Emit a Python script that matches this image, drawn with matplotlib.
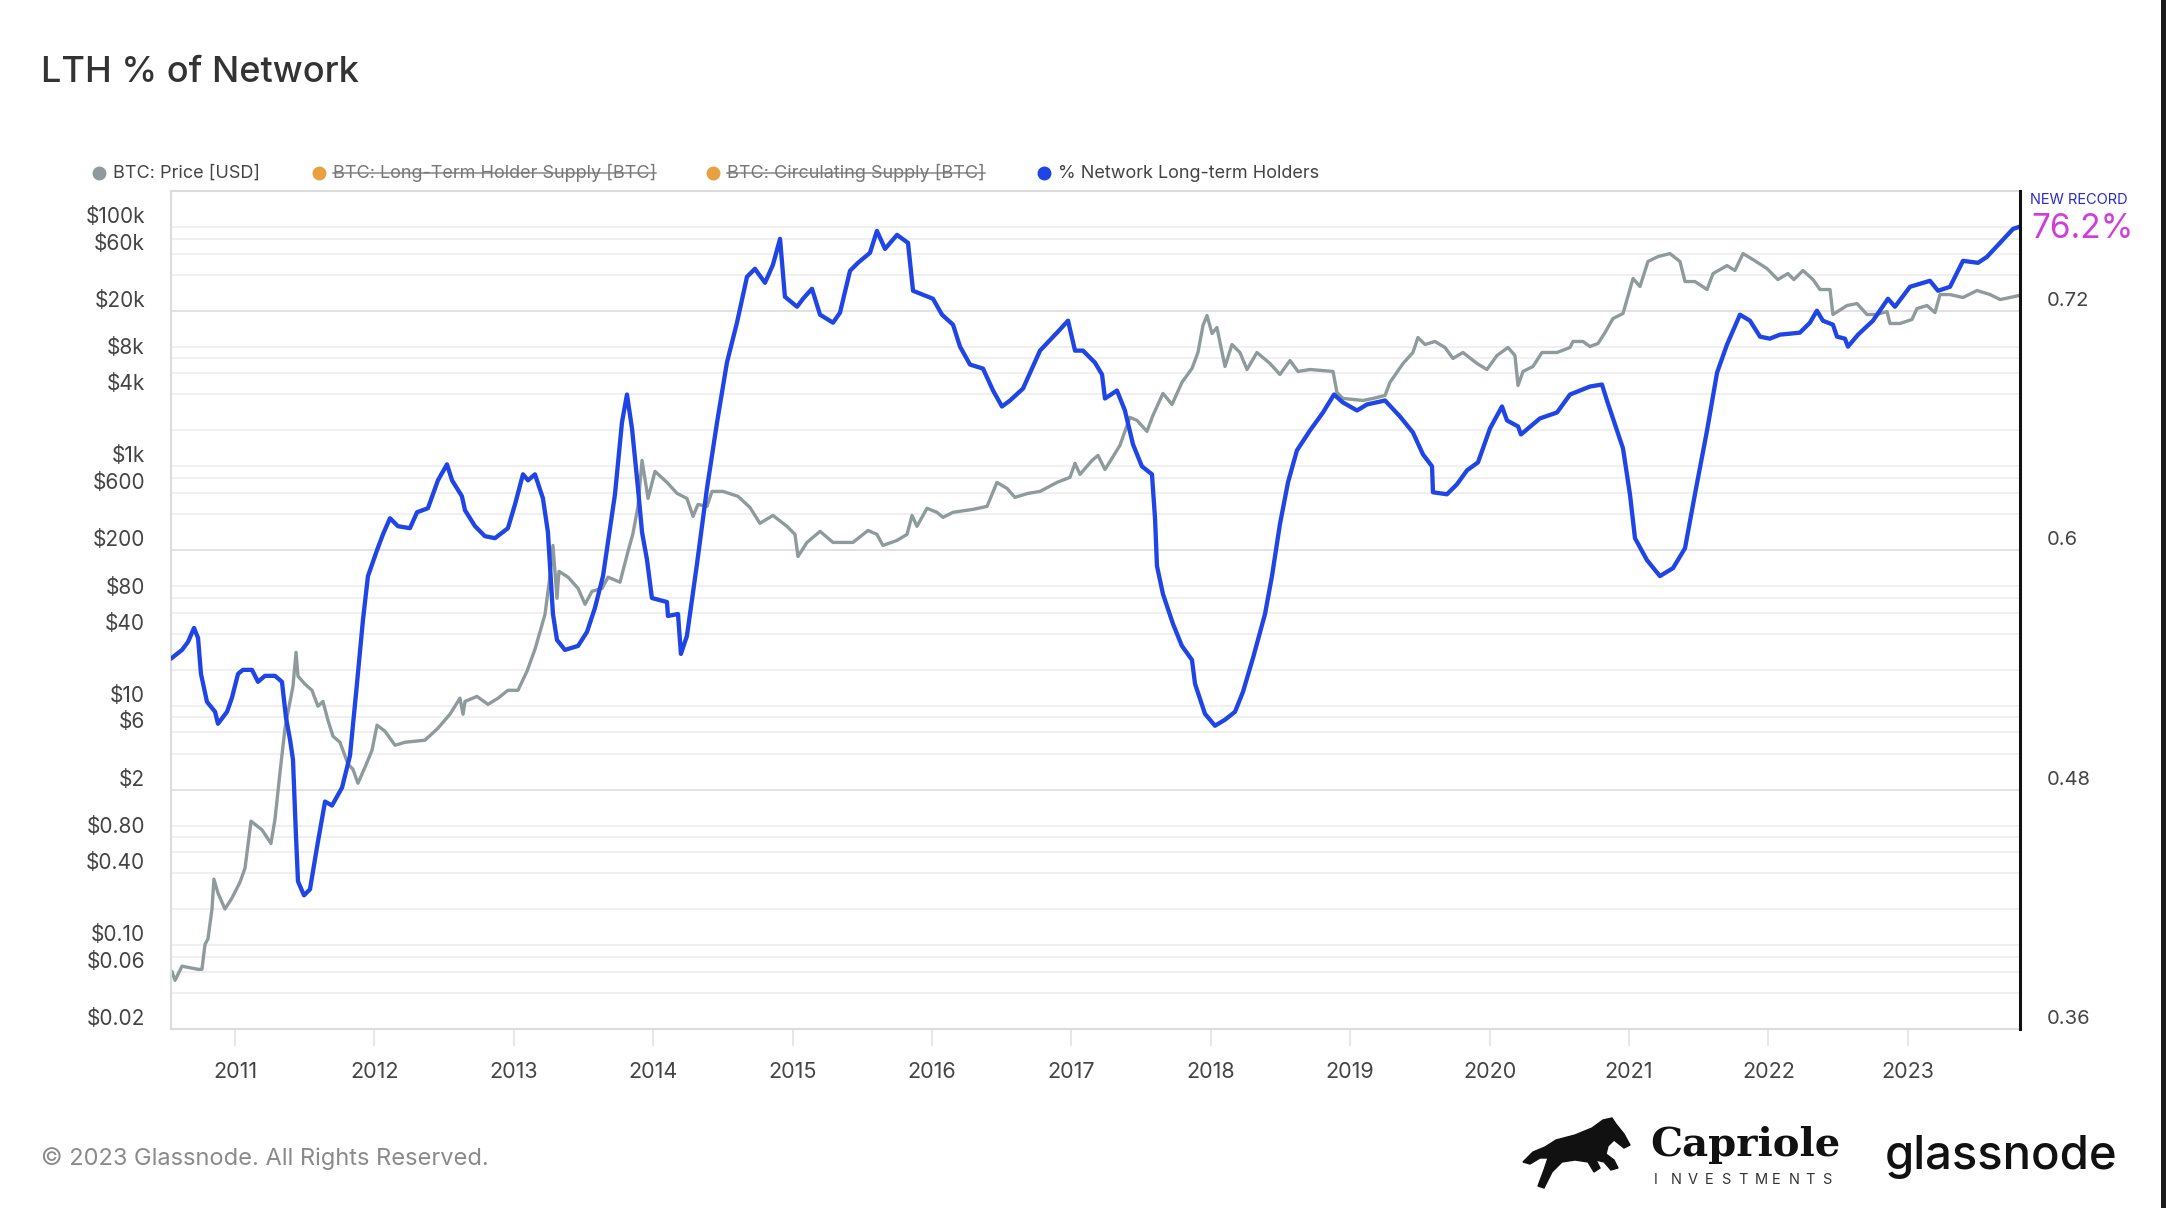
import matplotlib
matplotlib.use('Agg')
import matplotlib.pyplot as plt
from matplotlib.lines import Line2D
from matplotlib.patches import Polygon, Rectangle
from matplotlib.transforms import offset_copy

plt.rcParams['font.family'] = ['Inter', 'DejaVu Sans']

# ---- data (decimal years) ----
lth_years = [
    2010.548, 2010.620, 2010.663, 2010.706, 2010.735, 2010.756, 2010.799, 2010.857, 2010.878, 2010.943,
    2010.978, 2011.022, 2011.057, 2011.122, 2011.165, 2011.215, 2011.287, 2011.337, 2011.366, 2011.395,
    2011.416, 2011.438, 2011.452, 2011.495, 2011.538, 2011.588, 2011.646, 2011.696, 2011.768, 2011.825,
    2011.875, 2011.918, 2011.954, 2012.019, 2012.062, 2012.112, 2012.169, 2012.255, 2012.306, 2012.384,
    2012.456, 2012.521, 2012.557, 2012.628, 2012.650, 2012.722, 2012.793, 2012.865, 2012.958, 2013.009,
    2013.066, 2013.102, 2013.152, 2013.209, 2013.245, 2013.281, 2013.310, 2013.367, 2013.461, 2013.525,
    2013.582, 2013.640, 2013.726, 2013.776, 2013.812, 2013.848, 2013.891, 2013.920, 2013.956, 2013.991,
    2014.099, 2014.106, 2014.178, 2014.199, 2014.242, 2014.314, 2014.386, 2014.458, 2014.529, 2014.601,
    2014.673, 2014.730, 2014.802, 2014.859, 2014.910, 2014.945, 2015.032, 2015.075, 2015.139, 2015.197,
    2015.290, 2015.340, 2015.412, 2015.469, 2015.555, 2015.605, 2015.663, 2015.749, 2015.828, 2015.864,
    2015.935, 2016.007, 2016.072, 2016.151, 2016.201, 2016.273, 2016.366, 2016.438, 2016.502, 2016.560,
    2016.653, 2016.775, 2016.897, 2016.976, 2017.026, 2017.083, 2017.169, 2017.220, 2017.241, 2017.327,
    2017.384, 2017.442, 2017.506, 2017.578, 2017.600, 2017.614, 2017.657, 2017.729, 2017.793, 2017.865,
    2017.887, 2017.958, 2018.030, 2018.102, 2018.174, 2018.231, 2018.303, 2018.389, 2018.439, 2018.496,
    2018.554, 2018.618, 2018.712, 2018.805, 2018.884, 2018.948, 2019.049, 2019.120, 2019.250, 2019.357,
    2019.450, 2019.522, 2019.587, 2019.594, 2019.694, 2019.766, 2019.838, 2019.917, 2020.003, 2020.089,
    2020.125, 2020.204, 2020.225, 2020.361, 2020.484, 2020.577, 2020.720, 2020.806, 2020.842, 2020.885,
    2020.957, 2021.007, 2021.043, 2021.129, 2021.222, 2021.316, 2021.402, 2021.473, 2021.560, 2021.632,
    2021.703, 2021.796, 2021.868, 2021.940, 2022.011, 2022.083, 2022.226, 2022.298, 2022.348, 2022.391,
    2022.463, 2022.492, 2022.549, 2022.571, 2022.643, 2022.750, 2022.858, 2022.908, 2023.016, 2023.159,
    2023.217, 2023.303, 2023.396, 2023.504, 2023.568, 2023.662, 2023.755, 2023.798,
]
lth_share = [
    0.546, 0.550, 0.554, 0.561, 0.556, 0.538, 0.524, 0.519, 0.513, 0.519,
    0.526, 0.538, 0.540, 0.540, 0.534, 0.537, 0.537, 0.534, 0.516, 0.505,
    0.495, 0.456, 0.434, 0.427, 0.430, 0.451, 0.474, 0.472, 0.481, 0.497,
    0.533, 0.565, 0.587, 0.600, 0.608, 0.616, 0.612, 0.611, 0.619, 0.621,
    0.635, 0.643, 0.635, 0.627, 0.620, 0.612, 0.607, 0.606, 0.611, 0.623,
    0.638, 0.635, 0.638, 0.626, 0.609, 0.568, 0.555, 0.550, 0.552, 0.559,
    0.571, 0.587, 0.628, 0.664, 0.678, 0.661, 0.631, 0.609, 0.595, 0.576,
    0.574, 0.567, 0.568, 0.548, 0.557, 0.593, 0.631, 0.664, 0.694, 0.714,
    0.737, 0.741, 0.734, 0.743, 0.756, 0.727, 0.722, 0.726, 0.731, 0.718,
    0.714, 0.719, 0.740, 0.744, 0.749, 0.760, 0.751, 0.758, 0.754, 0.730,
    0.728, 0.726, 0.718, 0.713, 0.702, 0.693, 0.691, 0.680, 0.672, 0.675,
    0.681, 0.700, 0.709, 0.715, 0.700, 0.700, 0.694, 0.688, 0.676, 0.680,
    0.670, 0.653, 0.642, 0.638, 0.616, 0.592, 0.578, 0.563, 0.552, 0.545,
    0.533, 0.518, 0.512, 0.515, 0.519, 0.529, 0.546, 0.568, 0.587, 0.613,
    0.634, 0.650, 0.660, 0.669, 0.678, 0.674, 0.670, 0.673, 0.675, 0.667,
    0.659, 0.648, 0.642, 0.629, 0.628, 0.633, 0.640, 0.644, 0.661, 0.672,
    0.665, 0.662, 0.658, 0.666, 0.669, 0.678, 0.682, 0.683, 0.675, 0.666,
    0.651, 0.628, 0.606, 0.595, 0.587, 0.591, 0.601, 0.628, 0.660, 0.689,
    0.703, 0.718, 0.715, 0.707, 0.706, 0.708, 0.709, 0.714, 0.720, 0.715,
    0.713, 0.707, 0.706, 0.702, 0.708, 0.715, 0.726, 0.722, 0.732, 0.735,
    0.730, 0.732, 0.745, 0.744, 0.747, 0.754, 0.761, 0.762,
]

price_years = [
    2010.548, 2010.570, 2010.620, 2010.735, 2010.763, 2010.785, 2010.806, 2010.835, 2010.849, 2010.878,
    2010.928, 2010.978, 2011.036, 2011.072, 2011.115, 2011.194, 2011.258, 2011.287, 2011.323, 2011.359,
    2011.387, 2011.416, 2011.438, 2011.452, 2011.502, 2011.552, 2011.595, 2011.631, 2011.667, 2011.703,
    2011.753, 2011.811, 2011.846, 2011.882, 2011.933, 2011.983, 2012.019, 2012.076, 2012.148, 2012.220,
    2012.363, 2012.456, 2012.542, 2012.614, 2012.636, 2012.650, 2012.736, 2012.815, 2012.887, 2012.958,
    2013.030, 2013.095, 2013.152, 2013.224, 2013.260, 2013.281, 2013.310, 2013.324, 2013.389, 2013.461,
    2013.511, 2013.561, 2013.633, 2013.676, 2013.762, 2013.812, 2013.855, 2013.891, 2013.920, 2013.963,
    2014.013, 2014.099, 2014.171, 2014.242, 2014.286, 2014.321, 2014.386, 2014.422, 2014.501, 2014.608,
    2014.694, 2014.766, 2014.859, 2014.960, 2015.017, 2015.039, 2015.103, 2015.197, 2015.290, 2015.433,
    2015.541, 2015.605, 2015.648, 2015.749, 2015.821, 2015.857, 2015.892, 2015.964, 2016.036, 2016.079,
    2016.151, 2016.294, 2016.395, 2016.466, 2016.538, 2016.595, 2016.689, 2016.775, 2016.897, 2016.990,
    2017.026, 2017.062, 2017.148, 2017.191, 2017.241, 2017.291, 2017.348, 2017.420, 2017.471, 2017.542,
    2017.585, 2017.657, 2017.722, 2017.793, 2017.865, 2017.908, 2017.944, 2017.973, 2018.009, 2018.044,
    2018.102, 2018.152, 2018.209, 2018.260, 2018.331, 2018.425, 2018.496, 2018.568, 2018.626, 2018.712,
    2018.877, 2018.905, 2018.948, 2019.092, 2019.164, 2019.250, 2019.285, 2019.379, 2019.450, 2019.486,
    2019.537, 2019.608, 2019.680, 2019.737, 2019.809, 2019.910, 2019.981, 2020.053, 2020.132, 2020.182,
    2020.204, 2020.240, 2020.311, 2020.376, 2020.484, 2020.577, 2020.598, 2020.670, 2020.720, 2020.778,
    2020.828, 2020.885, 2020.957, 2021.029, 2021.079, 2021.136, 2021.208, 2021.294, 2021.366, 2021.402,
    2021.473, 2021.560, 2021.603, 2021.703, 2021.760, 2021.818, 2021.890, 2021.990, 2022.068, 2022.140,
    2022.183, 2022.248, 2022.320, 2022.370, 2022.442, 2022.463, 2022.564, 2022.636, 2022.707, 2022.779,
    2022.851, 2022.872, 2022.944, 2023.030, 2023.066, 2023.138, 2023.195, 2023.231, 2023.303, 2023.396,
    2023.497, 2023.590, 2023.662, 2023.733, 2023.798,
]
price_usd = [
    0.060, 0.051, 0.067, 0.063, 0.063, 0.102, 0.113, 0.201, 0.357, 0.273,
    0.201, 0.248, 0.337, 0.442, 1.09, 0.92, 0.71, 1.13, 2.79, 6.51,
    9.75, 14.6, 28.0, 17.7, 15.2, 13.5, 9.94, 10.9, 7.59, 5.58,
    4.97, 3.26, 2.96, 2.26, 3.08, 4.26, 6.90, 6.14, 4.69, 4.97,
    5.17, 6.51, 8.52, 11.6, 8.52, 10.9, 12.0, 10.3, 11.6, 13.5,
    13.5, 19.5, 29.7, 58.2, 123, 219, 79.2, 133, 119, 95.9,
    70.6, 90.6, 95.9, 119, 108, 181, 276, 464, 1124, 541,
    910, 736, 596, 541, 383, 482, 464, 619, 619, 563,
    455, 335, 390, 316, 271, 177, 232, 287, 232, 232,
    292, 271, 219, 241, 271, 390, 316, 447, 414, 376,
    414, 438, 464, 736, 656, 552, 596, 619, 736, 811,
    1061, 859, 1124, 1236, 944, 1167, 1500, 2570, 2424, 1963,
    2669, 4074, 3297, 5031, 6586, 8954, 15040, 18230, 12900, 14480,
    6840, 10440, 8954, 6457, 8954, 7244, 5866, 7674, 6216, 6457,
    6216, 4150, 3700, 3560, 3700, 3920, 5031, 7244, 8954, 11940,
    10440, 11070, 9860, 7980, 8954, 7244, 6457, 8450, 9860, 8450,
    4750, 6216, 6840, 8954, 8954, 9860, 11070, 11070, 10050, 10650,
    13150, 17200, 18950, 37150, 31840, 51500, 56650, 60000, 51500, 35050,
    35050, 30060, 40900, 47650, 43350, 60000, 53450, 45000, 36400, 40900,
    36400, 43350, 36400, 30060, 30060, 18600, 22100, 22960, 18600, 18600,
    19700, 15640, 15640, 16900, 20850, 22100, 19300, 27300, 27300, 25780,
    29500, 27300, 24800, 25780, 26800,
]

year_ticks = list(range(2011, 2024))
price_ticks = [1e5, 6e4, 2e4, 8e3, 4e3, 1e3, 600, 200, 80, 40, 10, 6, 2, 0.8, 0.4, 0.1, 0.06, 0.02]
price_tick_labels = ['$100k', '$60k', '$20k', '$8k', '$4k', '$1k', '$600', '$200', '$80', '$40',
                     '$10', '$6', '$2', '$0.80', '$0.40', '$0.10', '$0.06', '$0.02']
share_ticks = [0.36, 0.48, 0.6, 0.72]
share_tick_labels = ['0.36', '0.48', '0.6', '0.72']

GRAY = '#8e9a9b'
BLUE = '#1f45e6'
ORANGE = '#e8a040'

W, H = 2166, 1208
fig = plt.figure(figsize=(W / 100, H / 100), dpi=100)
fig.patch.set_facecolor('white')


def fx(px):
    return px / W


def fy(py):
    return 1 - py / H


ax = fig.add_axes([fx(171), fy(1029), fx(2020) - fx(171), fy(191) - fy(1029)])
ax2 = ax.twinx()

# price (left, log)
ax.plot(price_years, price_usd, color=GRAY, lw=2.4, solid_joinstyle='round')
ax.set_yscale('log')
ax.set_ylim(0.02, 2e5)
ax.set_xlim(2010.541, 2023.805)

# grid at 1,2,4,6,8 x 10^n
for e in range(-2, 6):
    for m in (1, 2, 4, 6, 8):
        v = m * 10.0 ** e
        if 0.02 < v < 2e5:
            ax.axhline(v, color='#ececec', lw=1.1, zorder=0)
for v in (2e4, 200, 2):
    ax.axhline(v, color='#e0e0e0', lw=1.2, zorder=0)

ax.yaxis.set_major_locator(plt.NullLocator())
ax.yaxis.set_minor_locator(plt.NullLocator())
ax.set_xticks(year_ticks)
ax.set_xticklabels([str(y) for y in year_ticks])
ax.tick_params(axis='x', length=12, width=1.2, color='#e3e3e3', pad=12,
               labelsize=15.5, labelcolor='#444444')
for s in ('left', 'bottom', 'top'):
    ax.spines[s].set_color('#dcdcdc')
    ax.spines[s].set_linewidth(1.5)
ax.spines['right'].set_visible(False)

# LTH share (right, linear)
ax2.plot(lth_years, lth_share, color=BLUE, lw=3.1, solid_joinstyle='round')
ax2.set_ylim(0.36, 0.78)
ax2.yaxis.set_major_locator(plt.NullLocator())
for s in ('left', 'bottom', 'top'):
    ax2.spines[s].set_visible(False)
ax2.spines['right'].set_color('#111111')
ax2.spines['right'].set_linewidth(2.2)

# tick labels sit a little above their grid lines
lt = offset_copy(ax.get_yaxis_transform(), fig=fig, x=-26, y=10, units='dots')
for v, lab in zip(price_ticks, price_tick_labels):
    ax.text(0, v, lab, transform=lt, ha='right', va='center', fontsize=15,
            color='#444444', clip_on=False)
rt = offset_copy(ax2.get_yaxis_transform(), fig=fig, x=27, y=10, units='dots')
for v, lab in zip(share_ticks, share_tick_labels):
    ax2.text(1, v, lab, transform=rt, ha='left', va='center', fontsize=14.5,
             color='#444444', clip_on=False)

# title
fig.text(fx(41), fy(73), 'LTH % of Network', fontsize=26, color='#333333',
         weight='medium', ha='left', va='center')

# legend
items = [('BTC: Price [USD]', GRAY, False, 99),
         ('BTC: Long-Term Holder Supply [BTC]', ORANGE, True, 319),
         ('BTC: Circulating Supply [BTC]', ORANGE, True, 713),
         ('% Network Long-term Holders', BLUE, False, 1044)]
leg_texts = []
for label, col, struck, x0 in items:
    fig.add_artist(Line2D([fx(x0)], [fy(173)], marker='o', markersize=9,
                          color=col, transform=fig.transFigure))
    t = fig.text(fx(x0 + 14), fy(173), label, fontsize=13,
                 color='#777777' if struck else '#444444', ha='left', va='center')
    leg_texts.append((t, struck))

fig.canvas.draw()
r = fig.canvas.get_renderer()
for t, struck in leg_texts:
    if struck:
        bb = t.get_window_extent(renderer=r)
        ymid = (bb.y0 + bb.y1) / 2
        fig.add_artist(Line2D([bb.x0 / W, bb.x1 / W], [ymid / H, ymid / H],
                              color='#888888', lw=1.1, transform=fig.transFigure))

# annotation at the right
fig.text(fx(2030), fy(200), 'NEW RECORD', fontsize=10.5, color='#2a2ad2',
         ha='left', va='center')
fig.text(fx(2031), fy(229), '76.2%', fontsize=24, color='#cf3ed9',
         ha='left', va='center')

# footer
fig.text(fx(41), fy(1159), '\u00a9 2023 Glassnode. All Rights Reserved.', fontsize=17,
         color='#8a8a8a', ha='left', va='center')

# Capriole logo (rough horse silhouette + wordmark)
horse = [(1523, 1162), (1533, 1152), (1545, 1147), (1556, 1140), (1575, 1135), (1592, 1128),
         (1603, 1120), (1612, 1118), (1616, 1124), (1624, 1134), (1630, 1145), (1624, 1148),
         (1614, 1140), (1608, 1146), (1606, 1154), (1614, 1160), (1618, 1168), (1611, 1170),
         (1604, 1162), (1596, 1160), (1600, 1168), (1594, 1172), (1588, 1162), (1575, 1160),
         (1562, 1162), (1552, 1172), (1544, 1188), (1538, 1186), (1544, 1170), (1548, 1158),
         (1540, 1158), (1530, 1164)]
fig.add_artist(Polygon([(fx(x), fy(y)) for x, y in horse], closed=True,
                       facecolor='#111111', edgecolor='#111111',
                       transform=fig.transFigure))
fig.text(fx(1650), fy(1145), 'Capriole', family='DejaVu Serif', weight='bold',
         fontsize=29, color='#111111', ha='left', va='center')
for i, ch in enumerate('INVESTMENTS'):
    fig.text(fx(1654 + i * 16.8), fy(1180), ch, fontsize=10.5, color='#333333',
             ha='left', va='center')
fig.text(fx(1885), fy(1157), 'glassnode', fontsize=34, color='#111111',
         weight='medium', ha='left', va='center')

# dark strip on the right edge of the screenshot
fig.add_artist(Rectangle((fx(2161), 0), fx(5), 1, facecolor='#1a1a1a',
                         edgecolor='none', transform=fig.transFigure))

fig.savefig('out.png', dpi=100, facecolor='white')
